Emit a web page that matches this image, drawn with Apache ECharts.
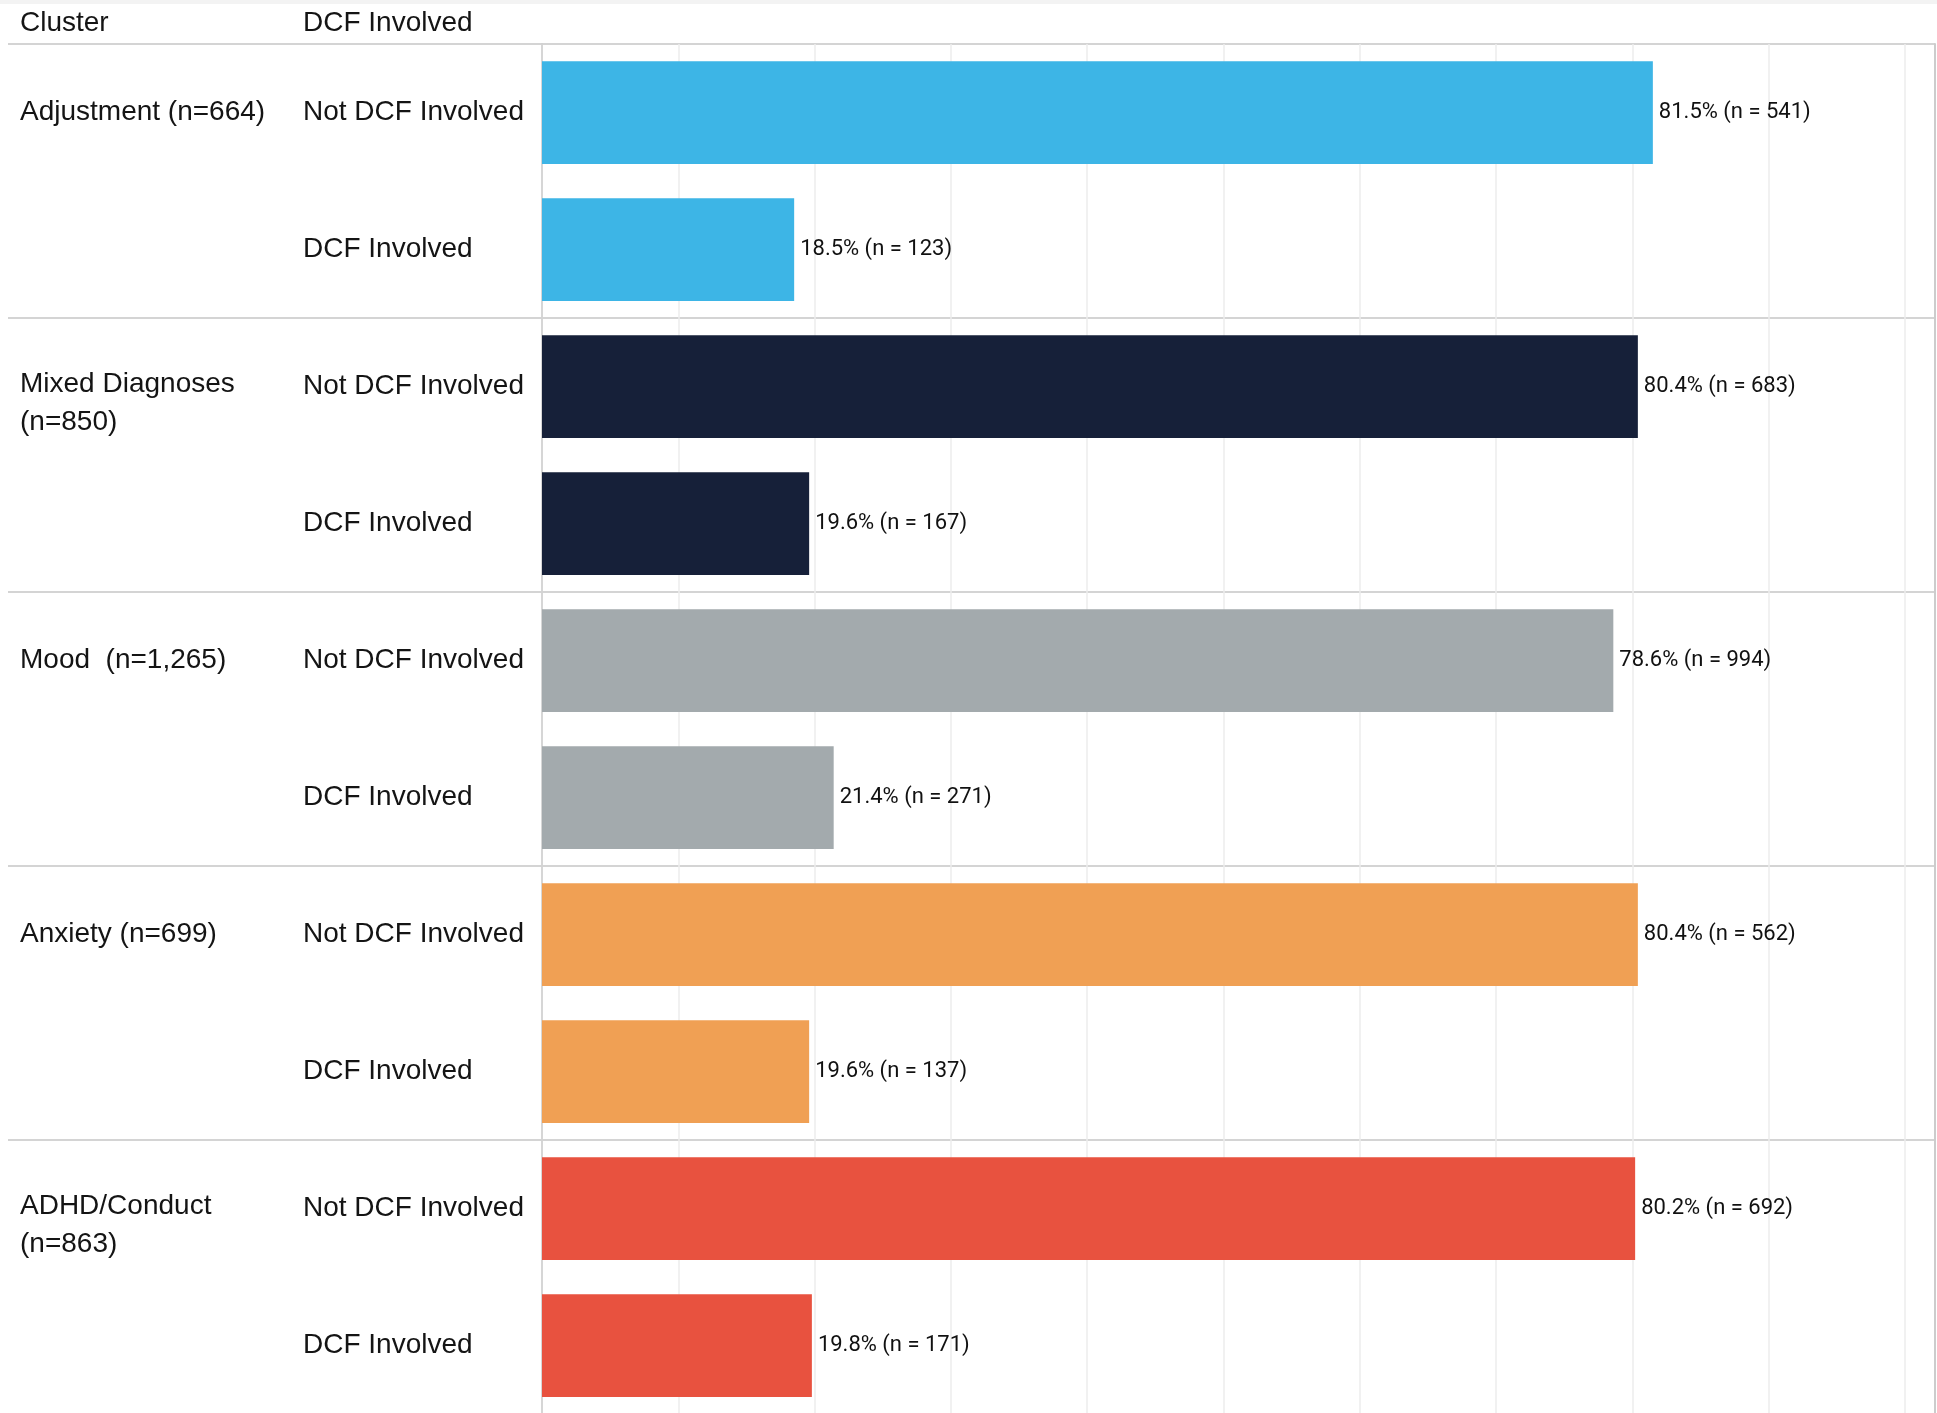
<!DOCTYPE html>
<html>
<head>
<meta charset="utf-8">
<script src="https://cdn.jsdelivr.net/npm/echarts@6/dist/echarts.min.js"></script>
<style>
  html, body { margin: 0; padding: 0; background: #ffffff; }
  #chart { width: 1937px; height: 1413px; }
</style>
</head>
<body>
<div id="chart"></div>
<script>
// ---- Data ----
const clusters = ['Adjustment (n=664)', 'Mixed Diagnoses\n(n=850)', 'Mood  (n=1,265)', 'Anxiety (n=699)', 'ADHD/Conduct\n(n=863)'];
const groups = ['Not DCF Involved', 'DCF Involved'];
const pctNotDCF = [81.5, 80.4, 78.6, 80.4, 80.2];
const pctDCF = [18.5, 19.6, 21.4, 19.6, 19.8];
const nNotDCF = [541, 683, 994, 562, 692];
const nDCF = [123, 167, 271, 137, 171];
const clusterColors = ['#3db5e6', '#162039', '#a3aaad', '#f0a054', '#e8523f'];
const headerCluster = 'Cluster';
const headerGroup = 'DCF Involved';

// ---- Build rows ----
const rowKeys = [];
const groupLabels = [];
const clusterLabels = [];
const barData = [];
clusters.forEach((c, i) => {
  const vals = [pctNotDCF[i], pctDCF[i]];
  const ns = [nNotDCF[i], nDCF[i]];
  const twoLine = c.indexOf('\n') >= 0;
  groups.forEach((g, j) => {
    rowKeys.push(i + '-' + j);
    groupLabels.push(g);
    if (twoLine) {
      clusterLabels.push(j === 1
        ? { value: c, textStyle: { align: 'left', verticalAlign: 'bottom', padding: [0, 0, 82, 0] } }
        : { value: '' });
    } else {
      clusterLabels.push(j === 0 ? { value: c, textStyle: { align: 'left', padding: [6, 0, 0, 0] } } : { value: '' });
    }
    barData.push({ value: vals[j], n: ns[j], itemStyle: { color: clusterColors[i] } });
  });
});

const labelFont = '"Liberation Sans", Arial, sans-serif';
const textColor = '#141414';

const chart = echarts.init(document.getElementById('chart'), null, { renderer: 'canvas' });
chart.setOption({
  animation: false,
  backgroundColor: '#ffffff',
  graphic: [{
    type: 'rect', left: 0, top: 0, shape: { x: 0, y: 0, width: 1937, height: 4 },
    style: { fill: '#f3f3f3' }, silent: true
  }],
  grid: [
    { left: 542, right: 2, top: 44, height: 1370, containLabel: false, outerBoundsMode: 'none' },
    { left: 8, right: 2, top: 44, height: 1370, containLabel: false, outerBoundsMode: 'none' }
  ],
  xAxis: [
    {
      gridIndex: 0, type: 'value', min: 0, max: 102.2, interval: 10,
      axisLine: { show: false }, axisTick: { show: false }, axisLabel: { show: false },
      splitLine: { show: true, lineStyle: { color: '#ededed', width: 1.5 } }
    },
    { gridIndex: 1, type: 'value', show: false }
  ],
  yAxis: [
    {
      gridIndex: 0, type: 'category', data: rowKeys, inverse: true,
      axisLine: { show: true, lineStyle: { color: '#cccccc', width: 1.5 } },
      axisTick: { show: false }, axisLabel: { show: false }, splitLine: { show: false }
    },
    {
      gridIndex: 0, type: 'category', data: groupLabels, inverse: true,
      position: 'left', offset: 239,
      axisLine: { show: false }, axisTick: { show: false },
      axisLabel: {
        show: true, interval: 0, align: 'left', margin: 0,
        fontFamily: labelFont, fontSize: 28, color: textColor,
        padding: [0, 0, 12, 0]
      },
      name: headerGroup, nameLocation: 'start', nameGap: 21,
      nameTextStyle: { fontFamily: labelFont, fontSize: 28, color: textColor, align: 'left', verticalAlign: 'middle' }
    },
    {
      gridIndex: 0, type: 'category', data: clusterLabels, inverse: true,
      position: 'left', offset: 522,
      axisLine: { show: false }, axisTick: { show: false },
      axisLabel: {
        show: true, interval: 0, align: 'left', margin: 0,
        fontFamily: labelFont, fontSize: 28, lineHeight: 38, color: textColor
      },
      name: headerCluster, nameLocation: 'start', nameGap: 21,
      nameTextStyle: { fontFamily: labelFont, fontSize: 28, color: textColor, align: 'left', verticalAlign: 'middle' }
    },
    {
      gridIndex: 0, type: 'category', data: rowKeys, inverse: true, position: 'right',
      axisLine: { show: true, lineStyle: { color: '#cccccc', width: 2 } },
      axisTick: { show: false }, axisLabel: { show: false }
    },
    {
      gridIndex: 1, type: 'category', data: clusters, inverse: true,
      axisLine: { show: false }, axisTick: { show: false }, axisLabel: { show: false },
      splitLine: { show: true, lineStyle: { color: '#d4d4d4', width: 2 } }
    }
  ],
  series: [{
    type: 'bar',
    xAxisIndex: 0, yAxisIndex: 0,
    barWidth: '75%',
    data: barData,
    label: {
      show: true, position: 'right', distance: 6,
      fontFamily: 'Roboto, sans-serif', fontSize: 22, color: '#111111',
      formatter: p => p.value.toFixed(1) + '% (n = ' + p.data.n + ')'
    }
  }]
});
</script>
</body>
</html>
